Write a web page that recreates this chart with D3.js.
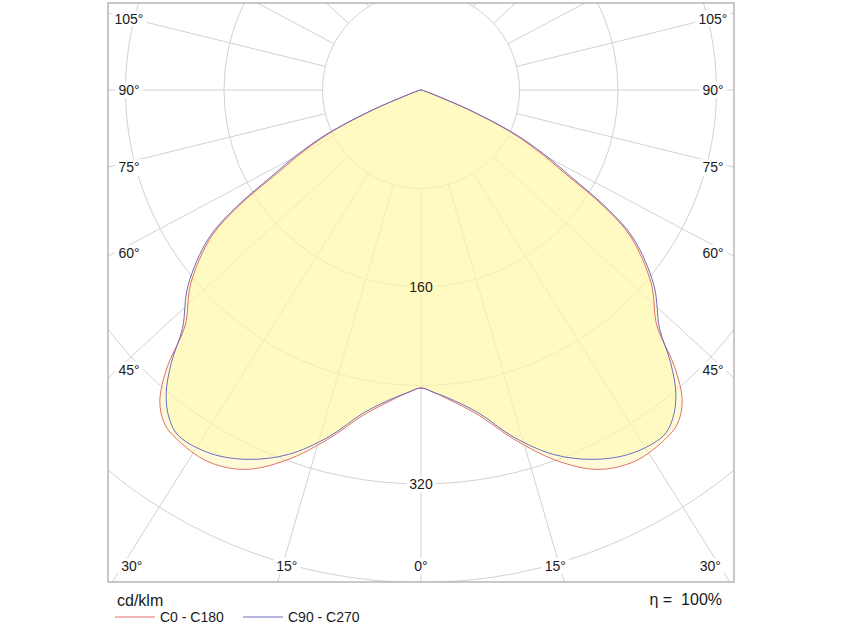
<!DOCTYPE html>
<html>
<head>
<meta charset="utf-8">
<script src="https://cdn.jsdelivr.net/npm/d3@7"></script>
<style>
  body { margin: 0; background: #fff; }
  text { font-family: "Liberation Sans", Arial, Helvetica, sans-serif; fill: #1a1a1a; }
</style>
</head>
<body>
<svg id="chart" width="844" height="633"></svg>
<script>
// gamma angles (deg from nadir) and intensities in cd/klm
const gammas = [0, 2.5, 5, 10, 15, 20, 25, 30, 35, 37.5, 40, 42.5, 45, 50, 55, 57.5, 60, 62.5, 65, 67.5, 70, 75, 80, 85, 90]
const c0c180 = [242, 246, 252, 268, 294, 320, 340, 348, 346, 342, 330, 305, 271, 244, 208, 176, 134, 107, 79, 42, 12, 3, 1.5, 0.5, 0]
const c90c270 = [242, 246, 251, 266, 292, 315, 331, 341, 343, 336, 322, 300, 274, 247, 211, 180, 140, 112, 83, 45, 13, 3, 1.5, 0.5, 0]

const ringValues = [80, 160, 240, 320, 400, 480]
const ringLabels = [160, 320]
const sideLabels = [45, 60, 75, 90, 105]
const bottomLabels = [0, 15, 30]
const efficiency = 'η =  100%'
const unitLabel = 'cd/klm'
const seriesNames = ['C0 - C180', 'C90 - C270']

const frame = {x: 108, y: 3, w: 626, h: 579}
const cx = 421, cy = 90
const squash = 0.92 // the grid rays in the reference are drawn a little flattened

const svg = d3.select('#chart')
const r = d3.scaleLinear().domain([0, 80]).range([0, 98.5])

const deg = d => d * Math.PI / 180
// unit direction of a grid ray for angle a (deg from nadir, positive to the right)
function rayDir(a, k) {
  const dx = Math.sin(deg(a)), dy = Math.cos(deg(a)) * k
  const n = Math.hypot(dx, dy)
  return [dx / n, dy / n]
}

svg.append('clipPath').attr('id', 'frameClip')
  .append('rect').attr('x', frame.x).attr('y', frame.y).attr('width', frame.w).attr('height', frame.h)

const grid = svg.append('g').attr('clip-path', 'url(#frameClip)')
  .attr('fill', 'none').attr('stroke', '#d2d2d2').attr('stroke-width', 1)

grid.selectAll('circle').data(ringValues).enter()
  .append('circle')
  .attr('cx', cx).attr('cy', cy)
  .attr('r', d => r(d))

grid.selectAll('line').data(d3.range(0, 360, 15)).enter()
  .append('line')
  .attr('x1', d => cx + rayDir(d, squash)[0] * r(80))
  .attr('y1', d => cy + rayDir(d, squash)[1] * r(80))
  .attr('x2', d => cx + rayDir(d, squash)[0] * 900)
  .attr('y2', d => cy + rayDir(d, squash)[1] * 900)

// label positions: where a ray meets an inset box
const labelK = 0.95
const labels = []
sideLabels.forEach(a => {
  const [dx, dy] = rayDir(a, labelK)
  const t = 292 / dx
  const nudge = a === 90 ? 0 : 3
  labels.push({text: a + '°', x: cx - 292, y: cy + dy * t + nudge})
  labels.push({text: a + '°', x: cx + 292, y: cy + dy * t + nudge})
})
bottomLabels.forEach(a => {
  const [dx, dy] = rayDir(a, labelK)
  const t = 476 / dy
  labels.push({text: a + '°', x: cx - dx * t, y: 566})
  if (a !== 0) labels.push({text: a + '°', x: cx + dx * t, y: 566})
})
ringLabels.forEach(v => labels.push({text: String(v), x: cx, y: cy + r(v)}))

const bgLayer = svg.append('g')
const fillLayer = svg.append('g')
const lineLayer = svg.append('g')
const textLayer = svg.append('g')

labels.forEach(l => {
  const t = textLayer.append('text')
    .attr('x', l.x).attr('y', l.y + 5)
    .attr('text-anchor', 'middle')
    .style('font-size', '14px')
    .text(l.text)
  const b = t.node().getBBox()
  bgLayer.append('rect')
    .attr('x', b.x - 3).attr('y', b.y).attr('width', b.width + 6).attr('height', b.height)
    .attr('fill', '#fff')
})

function outline(values) {
  const pts = []
  for (let i = gammas.length - 1; i >= 0; i--) pts.push([Math.PI + deg(gammas[i]), r(values[i])])
  for (let i = 1; i < gammas.length; i++) pts.push([Math.PI - deg(gammas[i]), r(values[i])])
  return pts
}

const radial = d3.lineRadial()
  .angle(d => d[0])
  .radius(d => d[1])
  .curve(d3.curveCatmullRom.alpha(0.5))

const series = [
  {name: seriesNames[0], values: c0c180, color: '#e2706a'},
  {name: seriesNames[1], values: c90c270, color: '#6d6dc4'}
]

series.forEach(s => {
  fillLayer.append('path')
    .attr('transform', `translate(${cx},${cy})`)
    .attr('d', radial(outline(s.values)) + 'Z')
    .attr('fill', '#fff7a8')
    .attr('fill-opacity', 0.45)
})
series.forEach(s => {
  lineLayer.append('path')
    .attr('transform', `translate(${cx},${cy})`)
    .attr('d', radial(outline(s.values)) + 'Z')
    .attr('fill', 'none')
    .attr('stroke', s.color)
    .attr('stroke-width', 1)
})

svg.append('rect')
  .attr('x', frame.x).attr('y', frame.y).attr('width', frame.w).attr('height', frame.h)
  .attr('fill', 'none').attr('stroke', '#a3a3a3').attr('stroke-width', 1.2)

// legend
svg.append('text').attr('x', 117).attr('y', 606).style('font-size', '16px').text(unitLabel)
svg.append('text').attr('x', 722).attr('y', 605).attr('text-anchor', 'end')
  .style('font-size', '16px').style('white-space', 'pre').text(efficiency)

const legend = svg.append('g')
series.forEach((s, i) => {
  const x0 = 115 + i * 128
  legend.append('line')
    .attr('x1', x0).attr('x2', x0 + 40).attr('y1', 617).attr('y2', 617)
    .attr('stroke', s.color).attr('stroke-width', 1.2)
  legend.append('text')
    .attr('x', x0 + 45).attr('y', 622)
    .style('font-size', '14px')
    .text(s.name)
})
</script>
</body>
</html>
